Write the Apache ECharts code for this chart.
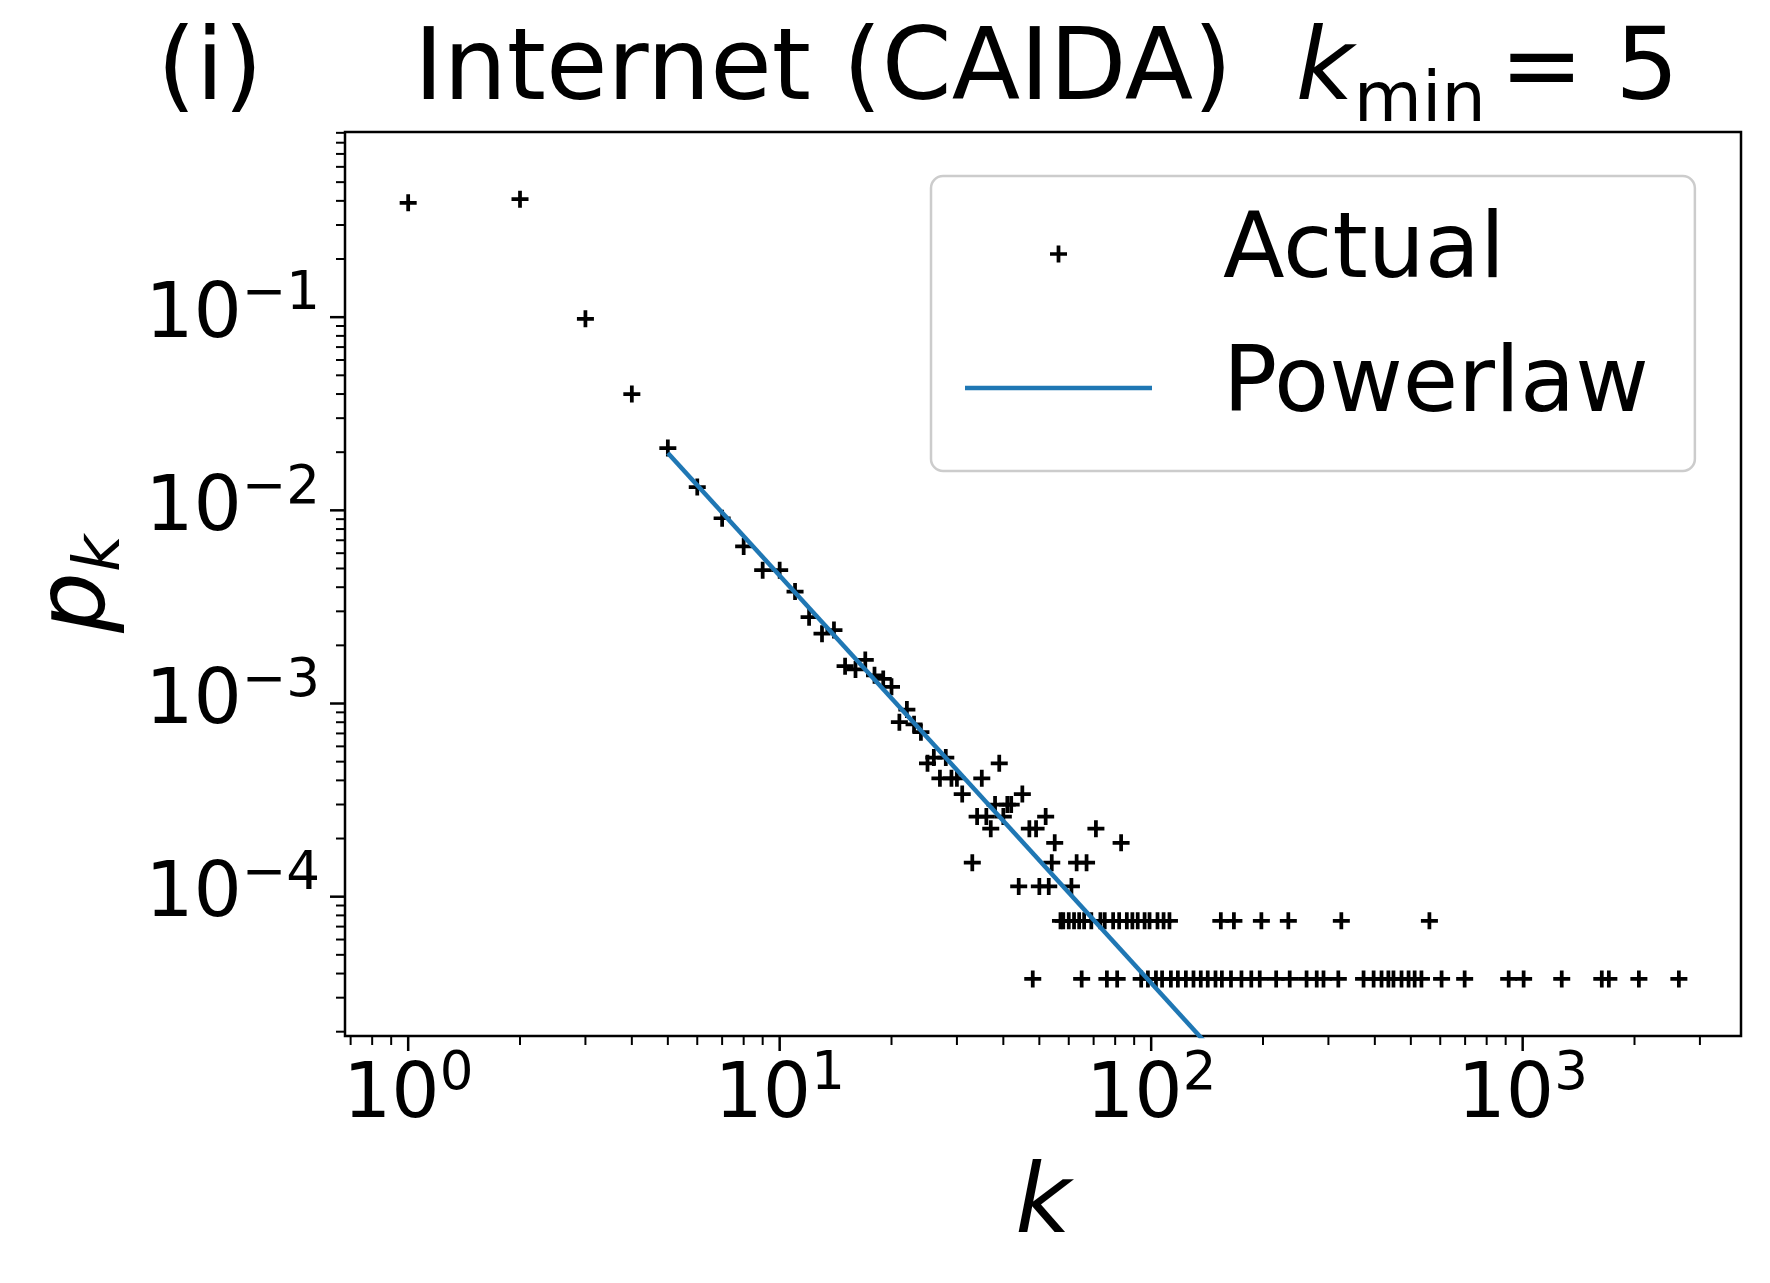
<!DOCTYPE html>
<html>
<head>
<meta charset="utf-8">
<script src="https://cdn.jsdelivr.net/npm/echarts@6/dist/echarts.min.js"></script>
<style>
  html, body { margin: 0; padding: 0; background: #fff; }
  #chart { width: 1770px; height: 1283px; }
</style>
</head>
<body>
<div id="chart"></div>
<script>
// degree distribution
var steepK = [1, 2, 3, 4, 5, 6, 7, 8, 9, 10, 11, 12, 13, 14, 15, 16, 17, 18, 19, 20, 21, 22, 23, 24];
var steepP = [0.391, 0.408, 0.098, 0.040, 0.021, 0.0132, 0.0091, 0.0065, 0.0049, 0.0049, 0.0038, 0.0028,
              0.0023, 0.0024, 0.00156, 0.0015, 0.00168, 0.0014, 0.00134, 0.00122, 0.0008, 0.00093, 0.00078, 0.00071];

var midK = [25, 26, 27, 28, 29, 30, 31, 33, 34, 35, 36, 37, 38, 39, 40, 41, 42, 44, 45, 47,
            49, 50, 52, 53, 54, 55, 61, 63, 67, 71, 83];
var midP = [4.9e-4, 5.25e-4, 4.1e-4, 5.25e-4, 4.1e-4, 4.1e-4, 3.4e-4, 1.5e-4, 2.6e-4, 4.1e-4, 2.6e-4, 2.25e-4,
            3.0e-4, 4.9e-4, 2.6e-4, 3.0e-4, 3.0e-4, 1.13e-4, 3.4e-4, 2.25e-4,
            2.25e-4, 1.13e-4, 2.6e-4, 1.13e-4, 1.5e-4, 1.9e-4, 1.13e-4, 1.5e-4, 1.5e-4, 2.25e-4, 1.9e-4];

// tail: degrees seen twice and once
var twiceP = 7.5e-5;
var twiceK = [57, 58, 60, 62, 64, 66, 69, 73, 75, 79, 82, 86, 89, 92, 96, 99, 104, 108, 112,
              154, 167, 198, 234, 325, 561];
var onceP = 3.75e-5;
var onceK = [48, 65, 76, 81, 94, 98, 103, 107, 113, 118, 124, 130, 136, 142, 149, 155, 164, 175, 186, 196,
             217, 236, 262, 279, 291, 319, 373, 397, 417, 435, 449, 472, 493, 512, 534, 605, 698,
             917, 1006, 1274, 1633, 1706, 2055, 2633];

// fitted power law (alpha ~ 2.1), end points
var fitK = [5, 150];
var fitP = [0.0198, 1.52e-5];

var X_MIN = 0.676, X_MAX = 3870;
var Y_MIN = 1.9e-5, Y_MAX = 0.909;
var xMajor = [1, 10, 100, 1000];
var yMajor = [1e-4, 1e-3, 1e-2, 1e-1];

var FONT = 'DejaVu Sans';
var PLUS = 'path://M-1.1,-5L1.1,-5L1.1,-1.1L5,-1.1L5,1.1L1.1,1.1L1.1,5L-1.1,5L-1.1,1.1L-5,1.1L-5,-1.1L-1.1,-1.1Z';
var BAR = 'path://M0,0L187,0L187,4.5L0,4.5Z';

var actual = [];
steepK.forEach(function (k, i) { actual.push([k, steepP[i]]); });
midK.forEach(function (k, i) { actual.push([k, midP[i]]); });
twiceK.forEach(function (k) { actual.push([k, twiceP]); });
onceK.forEach(function (k) { actual.push([k, onceP]); });

var fit = fitK.map(function (k, i) { return [k, fitP[i]]; });

function minors(lo, hi, e0, e1) {
  var out = [];
  for (var e = e0; e <= e1; e++) {
    for (var m = 2; m <= 9; m++) {
      var v = m * Math.pow(10, e);
      if (v >= lo && v <= hi) out.push(v);
    }
  }
  return out;
}

var xTickData = xMajor.map(function (v) { return [v, Y_MIN, 1]; })
  .concat(minors(X_MIN, X_MAX, -1, 3).map(function (v) { return [v, Y_MIN, 0]; }));
var yTickData = yMajor.map(function (v) { return [X_MIN, v, 1]; })
  .concat(minors(Y_MIN, Y_MAX, -5, -1).map(function (v) { return [X_MIN, v, 0]; }));

function powLabel(v) {
  var l = Math.log10(v), e = Math.round(l);
  if (Math.abs(l - e) > 1e-6) return '';
  return '{b|10}{sup|' + (e < 0 ? '\u2212' + (-e) : e) + '}';
}

var labelRich = {
  b: { fontSize: 76, lineHeight: 96, fontFamily: FONT, color: '#000' },
  sup: { fontSize: 53, lineHeight: 56, verticalAlign: 'top', fontFamily: FONT, color: '#000' }
};

var chart = echarts.init(document.getElementById('chart'), null, { renderer: 'canvas' });

chart.setOption({
  animation: false,
  backgroundColor: '#fff',
  title: [
    {
      text: '(i)', left: 157, top: 8, padding: 0,
      textStyle: { fontFamily: FONT, fontSize: 100, fontWeight: 'normal', color: '#000', lineHeight: 130 }
    },
    {
      text: '{t|Internet (CAIDA)  }{k|k}{s|min}{e|= 5}', left: 414, top: 8, padding: 0,
      textStyle: {
        fontFamily: FONT, fontSize: 100, fontWeight: 'normal', color: '#000', lineHeight: 130,
        rich: {
          t: { fontFamily: FONT, fontSize: 100, lineHeight: 130, color: '#000' },
          k: { fontFamily: FONT, fontSize: 100, lineHeight: 130, fontStyle: 'italic', color: '#000' },
          s: { fontFamily: FONT, fontSize: 70, lineHeight: 80, verticalAlign: 'bottom', color: '#000' },
          e: { fontFamily: FONT, fontSize: 100, lineHeight: 130, color: '#000', padding: [0, 0, 0, 14] }
        }
      }
    }
  ],
  legend: {
    orient: 'vertical', left: 931, top: 176,
    padding: [17, 46, 22, 34],
    itemWidth: 187, itemHeight: 17, itemGap: 12,
    backgroundColor: 'rgba(255,255,255,0.8)',
    borderColor: '#cccccc', borderWidth: 2.5, borderRadius: 12,
    textStyle: { fontFamily: FONT, fontSize: 90, color: '#000', lineHeight: 110, padding: [12, 0, 0, 66] },
    data: [
      { name: 'Actual', icon: PLUS, itemStyle: { color: '#000', opacity: 1 } },
      { name: 'Powerlaw', icon: BAR, itemStyle: { color: '#1f77b4', opacity: 1 } }
    ]
  },
  grid: {
    left: 345, right: 29, top: 132, bottom: 247,
    show: true, borderColor: '#000', borderWidth: 2.5, backgroundColor: 'transparent',
    containLabel: false, outerBoundsMode: 'none'
  },
  xAxis: {
    type: 'log', logBase: 10, min: X_MIN, max: X_MAX,
    name: 'k', nameLocation: 'middle', nameGap: 116,
    nameTextStyle: { fontFamily: FONT, fontSize: 96, fontStyle: 'italic', color: '#000', lineHeight: 110 },
    axisLine: { show: false }, axisTick: { show: false }, splitLine: { show: false },
    axisLabel: { formatter: powLabel, margin: 13, rich: labelRich }
  },
  yAxis: {
    type: 'log', logBase: 10, min: Y_MIN, max: Y_MAX,
    name: '{p|p}{k|k}', nameLocation: 'middle', nameRotate: 90, nameGap: 203,
    nameTextStyle: {
      fontFamily: FONT, color: '#000',
      rich: {
        p: { fontFamily: FONT, fontSize: 96, lineHeight: 110, fontStyle: 'italic', color: '#000' },
        k: { fontFamily: FONT, fontSize: 64, lineHeight: 72, fontStyle: 'italic', verticalAlign: 'bottom', color: '#000' }
      }
    },
    axisLine: { show: false }, axisTick: { show: false }, splitLine: { show: false },
    axisLabel: { formatter: powLabel, margin: 25, rich: labelRich }
  },
  series: [
    {
      name: 'Actual', type: 'scatter', data: actual,
      symbol: PLUS, symbolSize: 17,
      itemStyle: { color: '#000', opacity: 1 }, z: 3
    },
    {
      name: 'Powerlaw', type: 'line', data: fit,
      symbol: 'none', showSymbol: false,
      lineStyle: { color: '#1f77b4', width: 4.5 }, itemStyle: { color: '#1f77b4' }, z: 4
    },
    {
      name: 'xticks', type: 'custom', data: xTickData, silent: true, clip: false, z: 5,
      encode: { x: 0, y: 1 },
      renderItem: function (params, api) {
        var cs = params.coordSys;
        var x = api.coord([api.value(0), Y_MIN])[0];
        var y0 = cs.y + cs.height;
        var big = api.value(2) === 1;
        return {
          type: 'line',
          shape: { x1: x, y1: y0, x2: x, y2: y0 + (big ? 15 : 9) },
          style: { stroke: '#000', lineWidth: big ? 2.5 : 2 }
        };
      }
    },
    {
      name: 'yticks', type: 'custom', data: yTickData, silent: true, clip: false, z: 5,
      encode: { x: 0, y: 1 },
      renderItem: function (params, api) {
        var cs = params.coordSys;
        var y = api.coord([X_MIN, api.value(1)])[1];
        var x0 = cs.x;
        var big = api.value(2) === 1;
        return {
          type: 'line',
          shape: { x1: x0, y1: y, x2: x0 - (big ? 15 : 9), y2: y },
          style: { stroke: '#000', lineWidth: big ? 2.5 : 2 }
        };
      }
    }
  ]
});
</script>
</body>
</html>
